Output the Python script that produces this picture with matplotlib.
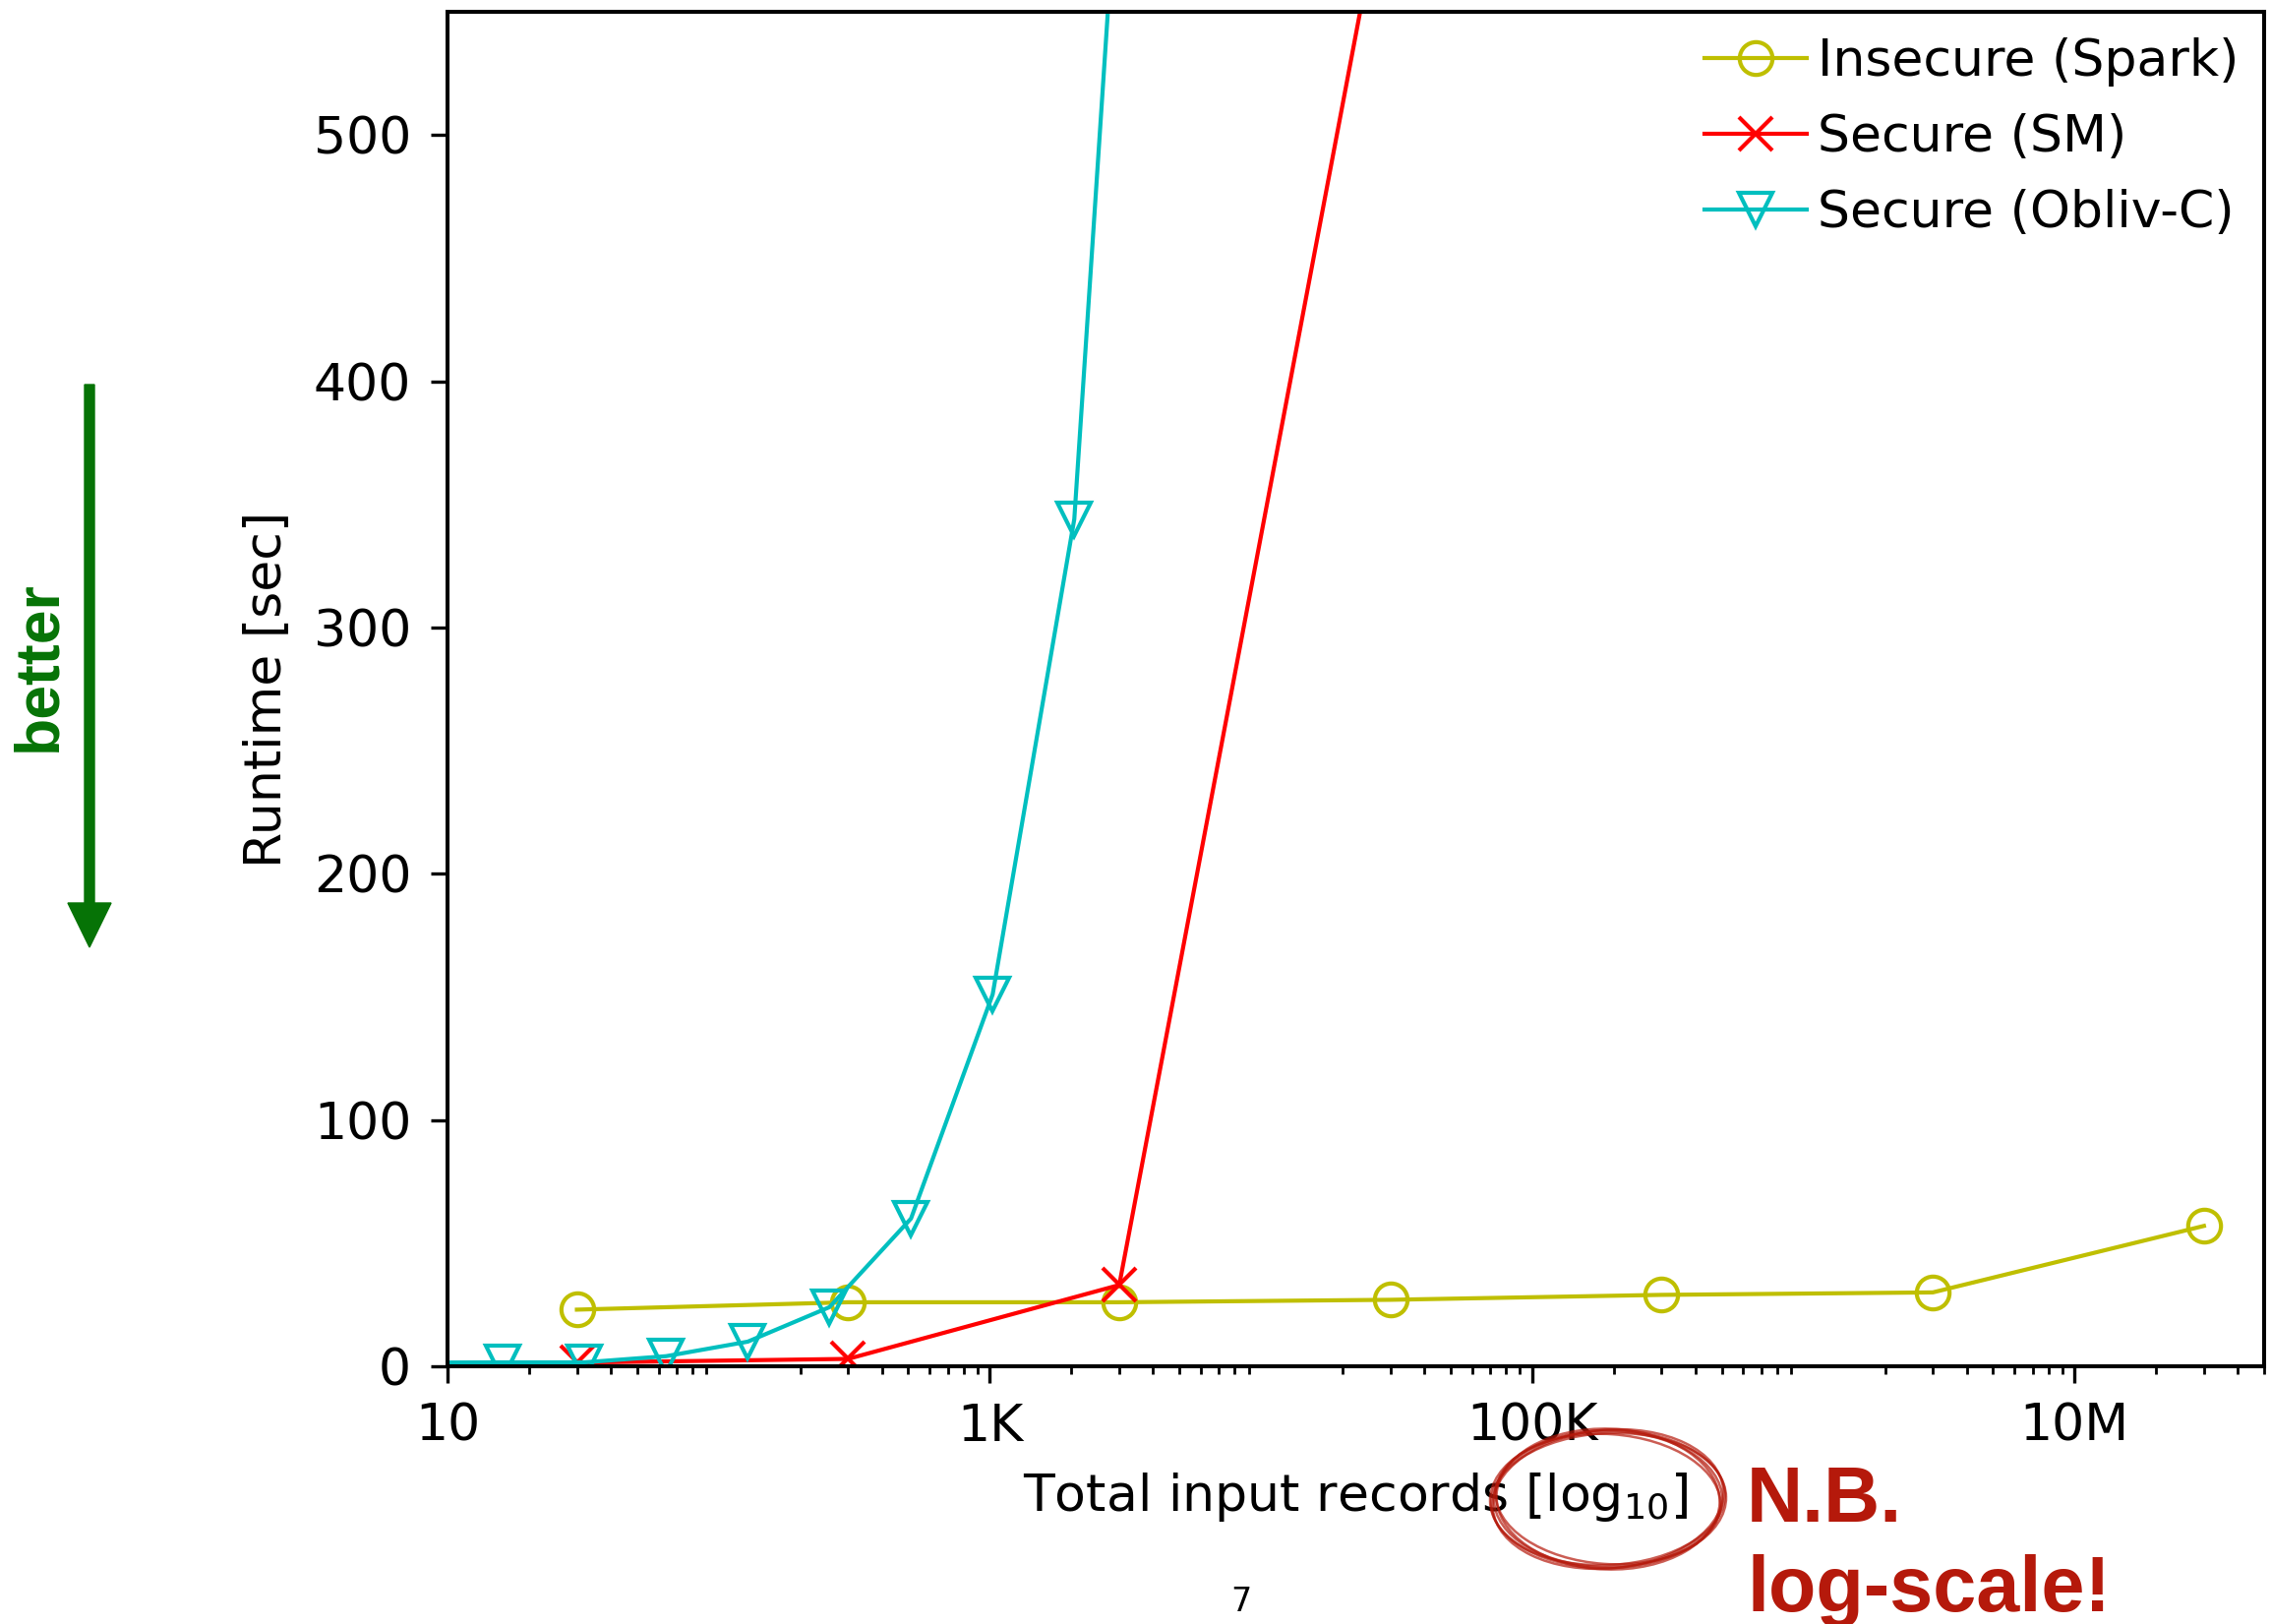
import matplotlib
matplotlib.use('Agg')
import matplotlib.pyplot as plt
from matplotlib.lines import Line2D
from matplotlib.patches import FancyArrow, Ellipse
from matplotlib.ticker import FixedLocator, LogLocator, NullFormatter

# Runtime vs. total input records
spark_x = [30, 300, 3000, 30000, 300000, 3000000, 30000000]
spark_y = [23, 26, 26, 27, 29, 30, 57]
sm_x = [30, 300, 3000, 30000]
sm_y = [1.5, 3, 33, 615]
obliv_x = [8, 16, 32, 64, 128, 256, 512, 1024, 2048, 4096]
obliv_y = [1.5, 1.6, 1.6, 4.1, 10, 24, 60, 151, 344, 845]

series_labels = ['Insecure (Spark)', 'Secure (SM)', 'Secure (Obliv-C)']
x_tick_vals = [10, 1e3, 1e5, 1e7]
x_tick_labels = ['10', '1K', '100K', '10M']
y_tick_vals = [0, 100, 200, 300, 400, 500]

W, H, DPI = 2309, 1651, 100
FS = 37.5
plt.rcParams['font.family'] = ['DejaVu Sans']
fig = plt.figure(figsize=(W / DPI, H / DPI), dpi=DPI)
ax = fig.add_axes([455 / W, 1 - 1389 / H, (2302 - 455) / W, (1389 - 12) / H])

lw, ms, mew = 3.0, 24, 3.0
ax.plot(spark_x, spark_y, color='y', lw=lw, marker='o', ms=ms, mew=mew, mfc='none')
ax.plot(sm_x, sm_y, color='r', lw=lw, marker='x', ms=ms, mew=mew)
ax.plot(obliv_x, obliv_y, color='c', lw=lw, marker='v', ms=ms, mew=mew, mfc='none')

ax.set_xscale('log')
ax.set_xlim(10, 5e7)
ax.set_ylim(0, 550)
ax.xaxis.set_major_locator(FixedLocator(x_tick_vals))
ax.set_xticklabels(x_tick_labels)
ax.xaxis.set_minor_locator(LogLocator(base=10, subs=range(2, 10), numticks=50))
ax.xaxis.set_minor_formatter(NullFormatter())
ax.set_yticks(y_tick_vals)

for s in ax.spines.values():
    s.set_linewidth(2.9)
ax.tick_params(which='major', length=12.5, width=2.4, labelsize=FS, pad=14)
ax.tick_params(which='minor', length=6, width=2)

ax.set_xlabel(r'Total input records [$\mathregular{log_{10}}$]', fontsize=FS, labelpad=14)
ax.set_ylabel('Runtime [sec]', fontsize=FS, labelpad=16)

handles = [
    Line2D([], [], color='y', lw=lw, marker='o', ms=ms, mew=mew, mfc='none'),
    Line2D([], [], color='r', lw=lw, marker='x', ms=ms, mew=mew),
    Line2D([], [], color='c', lw=lw, marker='v', ms=ms, mew=mew, mfc='none'),
]
ax.legend(handles, series_labels, loc='upper right', frameon=False, fontsize=FS,
          borderaxespad=0.1, handletextpad=0.2, labelspacing=0.52, numpoints=1)

# "better" arrow on the left
green = '#067306'
arr = FancyArrow(0.91, (H - 391) / DPI, 0, -(963 - 391) / DPI, width=0.1,
                 head_width=0.44, head_length=0.45, length_includes_head=True,
                 color=green, transform=fig.dpi_scale_trans)
fig.add_artist(arr)
fig.text(40 / W, 1 - 677 / H, 'better', rotation=90, color=green, fontsize=45,
         fontweight='bold', family=['Liberation Sans', 'DejaVu Sans'],
         ha='center', va='center')

# hand-drawn circle around [log10] and the N.B. note
red = '#B5190B'
for dw, dh, ang in [(0, 0, 0), (6, -4, 3), (-5, 5, -2), (3, 3, 5), (-3, -6, -4), (8, 2, 1)]:
    e = Ellipse((1635 / DPI, (H - 1524) / DPI), (232 + dw) / DPI, (138 + dh) / DPI,
                angle=ang, fill=False, lw=1.8, color=red, alpha=0.7,
                transform=fig.dpi_scale_trans)
    fig.add_artist(e)
fig.text(1776 / W, 1 - 1547 / H, 'N.B.', color=red, fontsize=57, fontweight='bold',
         family=['Liberation Sans', 'DejaVu Sans'], ha='left', va='baseline')
fig.text(1776 / W, 1 - 1638 / H, 'log-scale!', color=red, fontsize=57, fontweight='bold',
         family=['Liberation Sans', 'DejaVu Sans'], ha='left', va='baseline')

fig.text(1262 / W, 1 - 1612 / H, '7', fontsize=24, ha='center', va='top')

fig.savefig('out.png', dpi=DPI)
